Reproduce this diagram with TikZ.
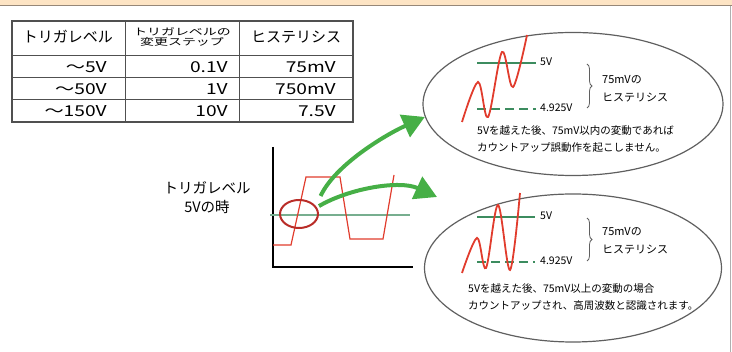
\documentclass[tikz,border=0pt]{standalone}
\usepackage{fontspec}
\newfontfamily\jpfont{Noto Sans CJK JP}
\usetikzlibrary{shapes.geometric,arrows.meta,decorations.pathreplacing}
\definecolor{bandpeach}{RGB}{253,228,196}
\definecolor{bandline}{RGB}{150,135,120}
\definecolor{edgegray}{RGB}{175,175,175}
\definecolor{tablegray}{RGB}{80,80,80}
\definecolor{wavered}{RGB}{225,60,45}
\definecolor{levelgreen}{RGB}{60,140,95}
\definecolor{arrowgreen}{RGB}{70,175,70}
\definecolor{ringred}{RGB}{185,45,40}
\definecolor{ovalgray}{RGB}{95,95,95}

\begin{document}
\begin{tikzpicture}[x=1pt, y=-1pt,
	every node/.style={font=\jpfont, inner sep=0pt},
	celltext/.style={font=\jpfont\fontsize{15}{17}\selectfont},
	numtext/.style={font=\jpfont\fontsize{15}{17}\selectfont, anchor=east, xscale=1.28},
	bigtext/.style={font=\jpfont\fontsize{14.5}{19}\selectfont, align=center},
	smalltext/.style={font=\jpfont\fontsize{10.5}{17}\selectfont, align=left},
	oval/.style={draw=ovalgray, line width=1.2pt, ellipse, minimum width=300pt, minimum height=143pt},
	wave/.style={wavered, line width=1.8pt, smooth, tension=0.55},
	level/.style={levelgreen, line width=2pt},
	bigarrow/.style={arrowgreen, line width=4pt, -{Triangle[length=22pt, width=24pt]}}]
			\useasboundingbox (0,0) rectangle (732,352);

			% Draw the band on top and the frame line
			\fill[bandpeach] (0,0) rectangle (732,5);
			\draw[bandline, line width=1pt] (0,5.5) -- (732,5.5);
			\draw[edgegray, line width=1pt] (730.5,6) -- (730.5,352);

			% Draw the table
			\draw[tablegray, line width=1.2pt] (12,21) rectangle (353,122);
			\draw[tablegray, line width=1pt] (12,56) -- (353,56);
			\draw[tablegray, line width=1pt] (12,78) -- (353,78);
			\draw[tablegray, line width=1pt] (12,100) -- (353,100);
			\draw[tablegray, line width=1pt] (125,21) -- (125,122);
			\draw[tablegray, line width=1pt] (239,21) -- (239,122);

			\node[celltext] (head1) at (68,37) {トリガレベル};
			\node[font=\jpfont\fontsize{9.6}{9.8}\selectfont, align=center, xscale=1.45] (head2) at (182,37) {トリガレベルの\\変更ステップ};
			\node[celltext] (head3) at (296,37) {ヒステリシス};

			\node[numtext] (lvl1) at (107,67) {～5V};
			\node[numtext] (lvl2) at (107,89) {～50V};
			\node[numtext] (lvl3) at (107,111) {～150V};
			\node[numtext] (stp1) at (228,67) {0.1V};
			\node[numtext] (stp2) at (228,89) {1V};
			\node[numtext] (stp3) at (228,111) {10V};
			\node[numtext] (hys1) at (336,67) {75mV};
			\node[numtext] (hys2) at (336,89) {750mV};
			\node[numtext] (hys3) at (336,111) {7.5V};

			% Draw the trigger graph
			\node[bigtext] (trigtext) at (207,198) {トリガレベル\\5Vの時};
			\draw[black, line width=2pt] (273,147) -- (273,267) -- (413,267);
			\draw[levelgreen!70, line width=1.5pt] (270,215) -- (410,215);
			\draw[wavered, line width=1.2pt] (273,245) -- (291,245) -- (306,177) -- (340,177)
			  -- (350,239) -- (383,239) -- (394,175);
			\node[draw=ringred, line width=2pt, ellipse, minimum width=38pt, minimum height=28pt] (trig) at (299,214) {};

			% Draw the two ovals
			\node[oval] (upper) at (573,104) {};
			\node[oval, minimum width=297pt, minimum height=148pt] (lower) at (573,268) {};

			% Draw the inside of the upper oval
			\draw[level] (477,63) -- (536,63);
			\draw[level, dash pattern=on 9pt off 5pt] (477,109) -- (536,109);
			\draw[wave] plot coordinates {(462,122) (478,82) (488,117) (502,52) (513,87) (527,35)};
			\node[smalltext, anchor=west] (up5v) at (540,62) {5V};
			\node[smalltext, anchor=west] (uplow) at (540,108) {4.925V};
			\draw[ovalgray, line width=0.8pt, decorate, decoration={brace, amplitude=5pt}] (587,64) -- (587,108);
			\node[font=\jpfont\fontsize{11}{18}\selectfont, align=left, anchor=west] (uphys) at (602,89) {75mVの\\ヒステリシス};
			\node[smalltext, anchor=west] (upnote) at (477,139) {5Vを越えた後、75mV以内の変動であれば\\カウントアップ誤動作を起こしません。};

			% Draw the inside of the lower oval
			\draw[level] (477,217) -- (535,217);
			\draw[level, dash pattern=on 9pt off 5pt] (477,262) -- (535,262);
			\draw[wave] plot coordinates {(462,273) (477,238) (486,268) (498,205) (510,270) (520,193)};
			\node[smalltext, anchor=west] (lo5v) at (540,216) {5V};
			\node[smalltext, anchor=west] (lolow) at (540,261) {4.925V};
			\draw[ovalgray, line width=0.8pt, decorate, decoration={brace, amplitude=5pt}] (587,218) -- (587,261);
			\node[font=\jpfont\fontsize{11}{18}\selectfont, align=left, anchor=west] (lohys) at (602,241) {75mVの\\ヒステリシス};
			\node[smalltext, anchor=west] (lonote) at (468,297) {5Vを越えた後、75mV以上の変動の場合\\カウントアップされ、高周波数と認識されます。};

			% Draw the arrows from the ring to the ovals
			\coordinate (tip2) at (437,197);
			\draw[bigarrow] ([xshift=8pt, yshift=7pt]trig.39) .. controls (335,165) and (385,135) .. (upper.185);
			\draw[bigarrow] ([xshift=3pt]trig.25) .. controls (350,188) and (400,180) .. (tip2);

		\end{tikzpicture}
\end{document}
